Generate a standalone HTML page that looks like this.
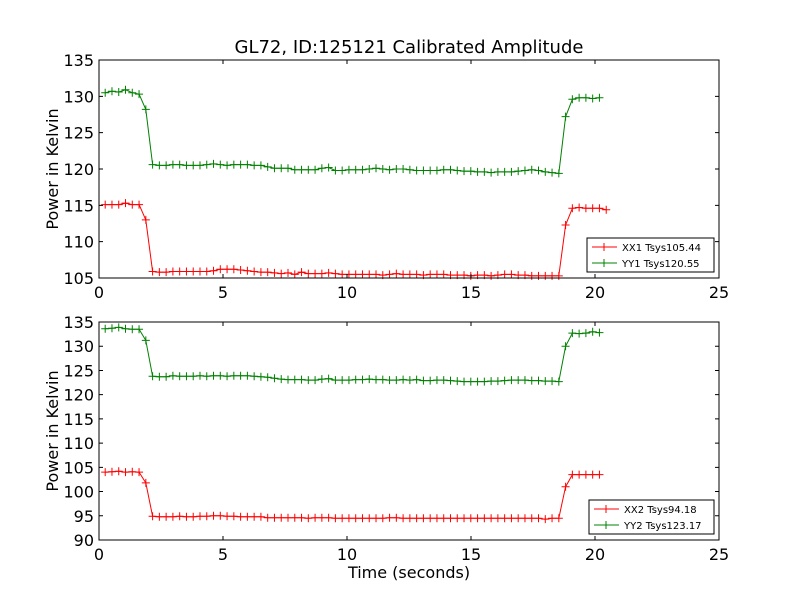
<!DOCTYPE html>
<html><head><meta charset="utf-8"><style>
body{margin:0;background:#fff}
svg text{font-family:"DejaVu Sans","Liberation Sans",sans-serif}
</style></head><body>
<svg id="c" width="800" height="600" viewBox="0 0 800 600" xmlns="http://www.w3.org/2000/svg"></svg>
<script>
const nPts = 75;
const xStart = 0.25, xStep = 0.273;
const xx1High = [115.1,115.1,115.1,115.3,115.1,115.1];
const xx1Mid = [113.0];
const xx1Low = [105.9,105.8,105.8,105.9,105.9,105.9,105.9,105.9,105.9,106.0,106.2,106.2,106.2,106.1,106.0,105.9,105.8,105.8,105.7,105.6,105.7,105.5,105.8,105.6,105.6,105.6,105.7,105.6,105.5,105.5,105.5,105.5,105.5,105.5,105.4,105.5,105.6,105.5,105.5,105.5,105.4,105.5,105.5,105.5,105.4,105.4,105.4,105.3,105.4,105.4,105.3,105.4,105.5,105.5,105.4,105.4,105.3,105.3,105.3,105.3,105.3];
const xx1Rise = [112.3,114.6,114.7,114.6,114.6,114.6,114.4];
const yy1High = [130.5,130.7,130.6,130.9,130.5,130.3];
const yy1Mid = [128.2];
const yy1Low = [120.6,120.5,120.5,120.6,120.6,120.5,120.5,120.5,120.6,120.7,120.6,120.5,120.6,120.6,120.6,120.5,120.5,120.3,120.1,120.1,120.1,119.9,119.9,119.9,119.9,120.1,120.2,119.8,119.8,119.9,119.9,119.9,120.0,120.1,120.0,119.9,120.0,120.0,119.9,119.8,119.8,119.8,119.8,119.9,119.9,119.8,119.7,119.7,119.6,119.6,119.5,119.6,119.6,119.6,119.7,119.8,119.9,119.8,119.6,119.5,119.4];
const yy1Rise = [127.2,129.6,129.8,129.8,129.7,129.8];
const xx2High = [104.0,104.1,104.2,104.0,104.1,104.0];
const xx2Mid = [101.8];
const xx2Low = [94.9,94.8,94.8,94.8,94.9,94.8,94.8,94.9,94.9,95.0,95.0,94.9,94.9,94.8,94.8,94.8,94.8,94.6,94.6,94.6,94.6,94.6,94.6,94.5,94.6,94.6,94.6,94.5,94.5,94.5,94.5,94.5,94.5,94.5,94.5,94.6,94.6,94.5,94.5,94.5,94.5,94.5,94.5,94.5,94.5,94.5,94.5,94.5,94.5,94.5,94.5,94.5,94.5,94.5,94.5,94.5,94.5,94.5,94.3,94.5,94.5];
const xx2Rise = [101.0,103.5,103.5,103.5,103.5,103.5];
const yy2High = [133.6,133.7,133.9,133.6,133.5,133.5];
const yy2Mid = [131.2];
const yy2Low = [123.8,123.7,123.7,123.9,123.8,123.8,123.8,123.9,123.8,123.9,123.9,123.8,123.9,123.9,123.9,123.8,123.7,123.6,123.4,123.2,123.1,123.1,123.1,123.0,123.0,123.2,123.3,123.0,123.0,123.0,123.1,123.1,123.2,123.1,123.1,123.0,123.0,123.1,123.0,123.1,122.9,122.9,123.0,123.0,122.9,122.8,122.7,122.7,122.7,122.7,122.8,122.8,122.9,123.0,123.0,123.0,122.9,122.9,122.8,122.8,122.7];
const yy2Rise = [130.0,132.7,132.6,132.7,133.0,132.8];
const xTicks = [0,5,10,15,20,25];
const yTicksTop = [105,110,115,120,125,130,135];
const yTicksBot = [90,95,100,105,110,115,120,125,130,135];

const svg = document.getElementById('c');
const NS = 'http://www.w3.org/2000/svg';
function mk(tag, attrs, parent){const e=document.createElementNS(NS,tag);for(const k in attrs)e.setAttribute(k,attrs[k]);(parent||svg).appendChild(e);return e;}
const L=99,R=719;
const xs = v => L + (v-0)/(25)*(R-L);
const xVals = Array.from({length:nPts},(_, i)=>xStart+i*xStep);

function panel(name, top, bot, ymin, ymax, yTicks, series, legend, legBox, xlabel){
  const g = mk('g',{});
  
  
  const ys = v => bot - (v-ymin)/(ymax-ymin)*(bot-top);
  series.forEach(s=>{
    const sg = mk('g',{},g);
    
    
    const pts = s.vals.map((v,i)=>xs(xVals[i]).toFixed(1)+','+ys(v).toFixed(1)).join(' ');
    mk('polyline',{points:pts,fill:'none',stroke:s.color,'stroke-width':1},sg);
    let d='';
    s.vals.forEach((v,i)=>{const x=xs(xVals[i]),y=ys(v);d+=`M${x-4},${y}h8M${x},${y-4}v8`;});
    mk('path',{d:d,stroke:s.color,'stroke-width':1,fill:'none'},sg);
  });
  const frame = mk('rect',{x:L,y:top,width:R-L,height:bot-top,fill:'none',stroke:'#000','stroke-width':1},g);
  
  
  xTicks.forEach(t=>{
    const x=xs(t);
    mk('path',{d:`M${x},${bot}v-4M${x},${top}v4`,stroke:'#000'},g);
    const tx=mk('text',{x:x,y:bot+20,'font-size':16,'text-anchor':'middle'},g);
    tx.textContent=t;
    
    
  });
  yTicks.forEach(t=>{
    const y=ys(t);
    mk('path',{d:`M${L},${y}h4M${R},${y}h-4`,stroke:'#000'},g);
    const tx=mk('text',{x:L-5,y:y+6,'font-size':16,'text-anchor':'end'},g);
    tx.textContent=t;
    
    
  });
  const yl=mk('text',{x:0,y:0,'font-size':16,'text-anchor':'middle',transform:`translate(58,${(top+bot)/2}) rotate(-90)`},g);
  yl.textContent='Power in Kelvin';
  
  
  const lg=mk('g',{},g);
  
  
  mk('rect',{x:legBox[0],y:legBox[1],width:legBox[2],height:legBox[3],fill:'#fff',stroke:'#000'},lg);
  legend.forEach((l,i)=>{
    const y=legBox[1]+9+i*16;
    const e=mk('g',{},lg);
    
    
    mk('path',{d:`M${legBox[0]+5},${y}h25M${legBox[0]+17},${y-4}v8`,stroke:l.color},e);
    const t=mk('text',{x:legBox[0]+35,y:y+4,'font-size':10},e);
    t.textContent=l.label;
  });
  if(xlabel){
    const xl=mk('text',{x:(L+R)/2,y:bot+38,'font-size':16,'text-anchor':'middle'},g);
    xl.textContent=xlabel;
    
    
  }
}
const s1r=[...xx1High,...xx1Mid,...xx1Low,...xx1Rise];
const s1g=[...yy1High,...yy1Mid,...yy1Low,...yy1Rise];
const s2r=[...xx2High,...xx2Mid,...xx2Low,...xx2Rise];
const s2g=[...yy2High,...yy2Mid,...yy2Low,...yy2Rise];
panel('top-panel',60,278,105,135,yTicksTop,
  [{name:'series-xx1',vals:s1r,color:'#ff0000'},{name:'series-yy1',vals:s1g,color:'#008000'}],
  [{label:'XX1 Tsys105.44',color:'#ff0000'},{label:'YY1 Tsys120.55',color:'#008000'}],[587,238,127,34],null);
panel('bottom-panel',322,540,90,135,yTicksBot,
  [{name:'series-xx2',vals:s2r,color:'#ff0000'},{name:'series-yy2',vals:s2g,color:'#008000'}],
  [{label:'XX2 Tsys94.18',color:'#ff0000'},{label:'YY2 Tsys123.17',color:'#008000'}],[589,500,125,34],'Time (seconds)');
const title=mk('text',{x:409,y:53,'font-size':18,'text-anchor':'middle'});
title.textContent='GL72, ID:125121 Calibrated Amplitude';


</script>
</body></html>
